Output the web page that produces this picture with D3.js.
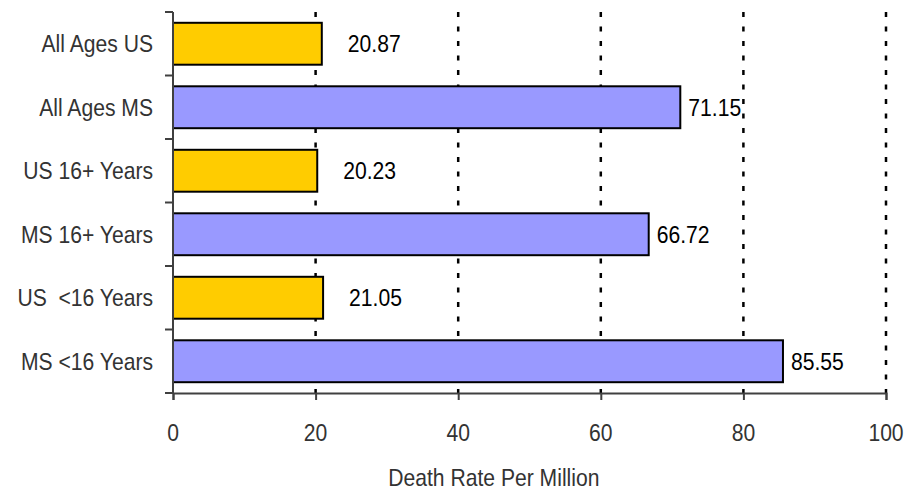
<!DOCTYPE html>
<html>
<head>
<meta charset="utf-8">
<script src="https://cdn.jsdelivr.net/npm/d3@7"></script>
<style>
  body { margin: 0; background: #fff; }
  text { font-family: "Liberation Sans", Arial, sans-serif; }
</style>
</head>
<body>
<script>
// categories top to bottom
var categories = ["All Ages US", "All Ages MS", "US 16+ Years", "MS 16+ Years", "US  <16 Years", "MS <16 Years"];
var rates = [20.87, 71.15, 20.23, 66.72, 21.05, 85.55];
var groups = ["US", "MS", "US", "MS", "US", "MS"];
var xTicks = [0, 20, 40, 60, 80, 100];
var xTitle = "Death Rate Per Million";

var colors = { US: "#ffcc00", MS: "#9999ff" };
var labelGap = { US: 26, MS: 8 };

var width = 908, height = 490;
var margin = { top: 12, right: 22, bottom: 97, left: 173 };
var fontSize = 24, squeeze = 0.88;

var svg = d3.select("body").append("svg")
  .attr("width", width)
  .attr("height", height);

// text looks narrow in the original, so squeeze it sideways
var addText = function(sel, fx, fy) {
  return sel.append("text")
    .attr("transform", function(d, i) {
      return "translate(" + fx(d, i) + "," + fy(d, i) + ") scale(" + squeeze + ",1)";
    })
    .attr("font-size", fontSize)
    .style("white-space", "pre");
};

var x = d3.scaleLinear().domain([0, 100])
  .range([margin.left, width - margin.right]);

var y = d3.scaleBand().domain(categories)
  .range([margin.top, height - margin.bottom])
  .paddingInner(0.34).paddingOuter(0.17);

// dashed grid
svg.selectAll("line.grid")
  .data(xTicks.slice(1))
  .enter().append("line")
  .attr("class", "grid")
  .attr("x1", function(d) { return x(d); })
  .attr("x2", function(d) { return x(d); })
  .attr("y1", margin.top)
  .attr("y2", height - margin.bottom)
  .attr("stroke", "#000")
  .attr("stroke-width", 2.5)
  .attr("stroke-dasharray", "5,9.5");

// bars
svg.selectAll("rect.bar")
  .data(rates)
  .enter().append("rect")
  .attr("class", "bar")
  .attr("x", x(0))
  .attr("y", function(d, i) { return y(categories[i]); })
  .attr("width", function(d) { return x(d) - x(0); })
  .attr("height", y.bandwidth())
  .attr("fill", function(d, i) { return colors[groups[i]]; })
  .attr("stroke", "#000")
  .attr("stroke-width", 2);

// value labels
var vals = svg.selectAll("g.val").data(rates).enter().append("g").attr("class", "val");
addText(vals,
    function(d, i) { return x(d) + labelGap[groups[i]]; },
    function(d, i) { return y(categories[i]) + y.bandwidth() / 2; })
  .attr("dy", "0.35em")
  .attr("fill", "#000")
  .text(function(d) { return d.toFixed(2); });

// y axis with ticks at band edges
var yAxisG = svg.append("g");
yAxisG.append("line")
  .attr("x1", x(0)).attr("x2", x(0))
  .attr("y1", margin.top).attr("y2", height - margin.bottom)
  .attr("stroke", "#404040").attr("stroke-width", 2);
var edges = categories.map(function(c) { return y(c) - y.step() * y.paddingInner() / 2; });
edges.push(height - margin.bottom);
yAxisG.selectAll("line.ytick")
  .data(edges)
  .enter().append("line")
  .attr("class", "ytick")
  .attr("x1", x(0) - 8).attr("x2", x(0))
  .attr("y1", function(d) { return d; })
  .attr("y2", function(d) { return d; })
  .attr("stroke", "#404040").attr("stroke-width", 2);
var cats = yAxisG.selectAll("g.cat").data(categories).enter().append("g").attr("class", "cat");
addText(cats,
    function() { return x(0) - 20; },
    function(d) { return y(d) + y.bandwidth() / 2; })
  .attr("dy", "0.35em")
  .attr("text-anchor", "end")
  .attr("fill", "#333")
  .text(function(d) { return d; });

// x axis
var xAxis = d3.axisBottom(x).tickValues(xTicks).tickSize(7).tickFormat("");
var xg = svg.append("g")
  .attr("transform", "translate(0," + (height - margin.bottom) + ")")
  .call(xAxis);
xg.select(".domain").attr("stroke", "#404040").attr("stroke-width", 2);
xg.selectAll(".tick line").attr("stroke", "#404040").attr("stroke-width", 2);
var xl = svg.selectAll("g.xl").data(xTicks).enter().append("g").attr("class", "xl");
addText(xl,
    function(d) { return x(d); },
    function() { return height - margin.bottom + 48; })
  .attr("text-anchor", "middle")
  .attr("fill", "#333")
  .text(function(d) { return d; });

// axis title sits a bit left of the plot centre in the original
var tg = svg.append("g").datum(xTitle);
addText(tg,
    function() { return x(45); },
    function() { return 486; })
  .attr("text-anchor", "middle")
  .attr("fill", "#333")
  .text(function(d) { return d; });
</script>
</body>
</html>
